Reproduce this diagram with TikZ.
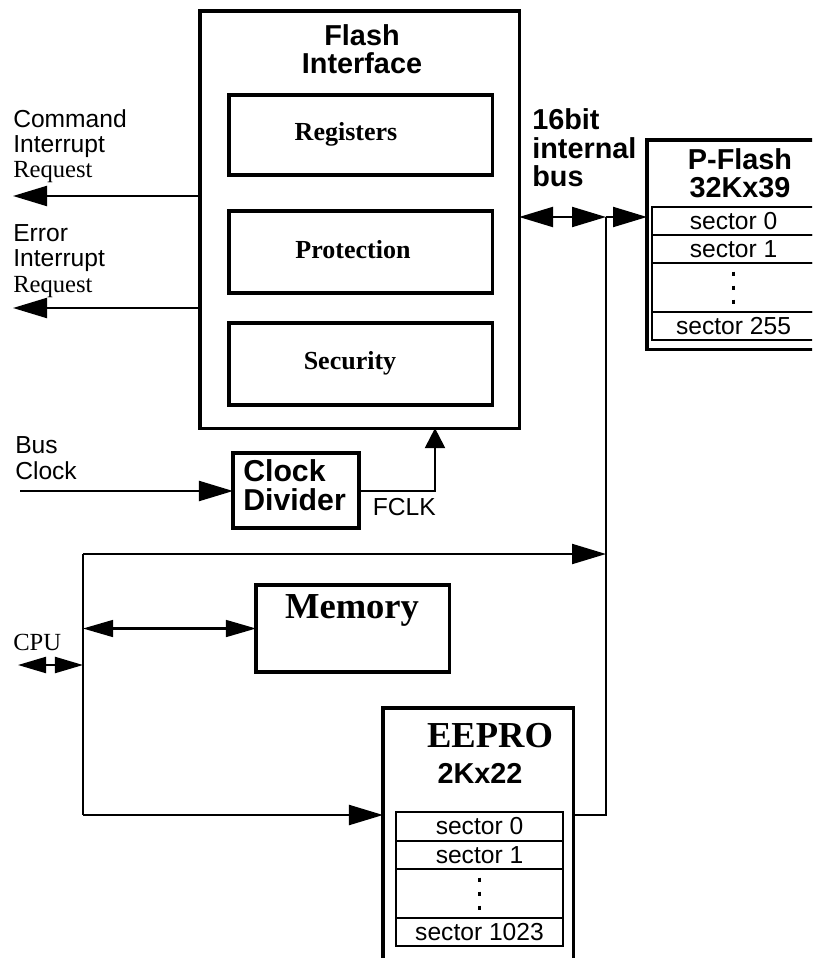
\documentclass[tikz,border=0pt]{standalone}
\usepackage{fontspec}
\setmainfont{Liberation Sans}
\newfontfamily\timesfont{Liberation Serif}
\usetikzlibrary{positioning,arrows.meta}

\tikzset{
	box/.style={draw, line width=2.2pt, anchor=north west, inner sep=0pt, outer sep=0pt},
	cell/.style={draw, line width=1.8pt, anchor=north west, inner sep=0pt, outer sep=0pt, minimum height=0.7cm, font=\fontsize{17.5}{18}\selectfont},
	txt/.style={inner sep=0pt, align=left, font=\fontsize{17.5}{18}\selectfont},
	hdr/.style={inner sep=0pt, align=center, font=\bfseries\fontsize{20.5}{20.6}\selectfont},
	blk/.style={inner sep=0pt, font=\timesfont\bfseries\fontsize{18.5}{20}\selectfont},
	big/.style={inner sep=0pt, font=\timesfont\bfseries\fontsize{26}{28}\selectfont},
	wire/.style={line width=1.5pt},
	vdots/.style={line width=2.5pt, dash pattern=on 0.1cm off 0.25cm}
}

\begin{document}
\begin{tikzpicture}[x=0.025cm, y=-0.025cm, >={Triangle[length=0.85cm,width=0.5cm]}]
	\clip (0,0) rectangle (812,958);

	\node[box, minimum width=7.975cm, minimum height=10.425cm] (flash) at (200,11) {};
	\node[hdr, anchor=base] (flashttl) at (362,74) {Flash\\Interface};
	\node[box, minimum width=6.575cm, minimum height=2cm] (regs) at (229,95) {};
	\node[box, minimum width=6.575cm, minimum height=2.05cm] (prot) at (229,211) {};
	\node[box, minimum width=6.575cm, minimum height=2.05cm] (secu) at (229,323) {};
	\node[blk, anchor=base] (regstxt) at (346,141) {Registers};
	\node[blk, anchor=base] (prottxt) at (353,258) {Protection};
	\node[blk, anchor=base] (secutxt) at (350,369) {Security};

	\node[txt, anchor=base west] (cmdtxt) at (13,178) {Command\\Interrupt\\{\timesfont Request}};
	\node[txt, anchor=base west] (errtxt) at (13,292) {Error\\Interrupt\\{\timesfont Request}};
	\coordinate (cmdirq) at (13,196);
	\coordinate (errirq) at (13,308);
	\draw[wire, ->] (flash.west |- cmdirq) -- (cmdirq);
	\draw[wire, ->] (flash.west |- errirq) -- (errirq);

	\node[txt, anchor=base west] (busclktxt) at (15,479) {Bus\\Clock};
	\node[box, minimum width=3.15cm, minimum height=1.875cm] (clkdiv) at (233,453) {};
	\node[hdr, align=left, anchor=base west, font=\bfseries\fontsize{21.5}{20}\selectfont] (clkdivtxt) at (243,510) {Clock\\Divider};
	\coordinate (busclk) at (20,491);
	\coordinate (fclk) at (435,491);
	\draw[wire, ->] (busclk) -- (clkdiv.west |- busclk);
	\draw[wire, -{Triangle[length=0.5cm,width=0.5cm]}] (clkdiv.east |- fclk) -- (fclk) -- (fclk |- flash.south);
	\node[txt, anchor=base east] (fclktxt) at (436,515) {FCLK};

	\node[box, minimum width=4.6cm, minimum height=5.225cm] (pflash) at (647,140) {};
	\node[hdr, anchor=base] (pflashttl) at (740,198) {P-Flash\\32Kx39};
	\node[cell, minimum width=4.075cm] (pf0) at (652,207) {sector 0};
	\node[cell, minimum width=4.075cm, below=0pt of pf0] (pf1) {sector 1};
	\node[cell, minimum width=4.075cm, minimum height=1.225cm, below=0pt of pf1] (pfdots) {};
	\node[cell, minimum width=4.075cm, below=0pt of pfdots] (pf255) {sector 255};
	\draw[vdots] ([yshift=0.4cm]pfdots.center) -- ([yshift=-0.4cm]pfdots.center);

	\node[box, minimum width=4.825cm, minimum height=2.175cm] (memory) at (256,585) {};
	\node[big, anchor=base] (memtxt) at (352,618) {Memory};

	\node[box, minimum width=4.75cm, minimum height=7cm] (eeprom) at (383,708) {};
	\node[big, anchor=base] (eepromttl) at (490,747) {EEPRO};
	\node[hdr, anchor=base] (eesize) at (480,783) {2Kx22};
	\node[cell, minimum width=4.175cm, minimum height=0.725cm] (ee0) at (396,812) {sector 0};
	\node[cell, minimum width=4.175cm, below=0pt of ee0] (ee1) {sector 1};
	\node[cell, minimum width=4.175cm, minimum height=1.225cm, below=0pt of ee1] (eedots) {};
	\node[cell, minimum width=4.175cm, below=0pt of eedots] (ee1023) {sector 1023};
	\draw[vdots] ([yshift=0.4cm]eedots.center) -- ([yshift=-0.4cm]eedots.center);

	\coordinate (bustop) at (606,217);
	\coordinate (busbot) at (606,815);
	\draw[wire, <->] (flash.east |- bustop) -- (bustop);
	\draw[wire, ->] (bustop) -- (pflash.west |- bustop);
	\draw[wire] (bustop) -- (busbot) -- (eeprom.east |- busbot);
	\node[hdr, align=left, anchor=base west] (bustxt) at (532,187) {16bit\\internal\\bus};

	\coordinate (cpuup) at (83,554);
	\coordinate (cpudown) at (83,815);
	\coordinate (cpuin) at (18,665);
	\draw[wire, ->] (cpuup) -- (cpuup -| bustop);
	\draw[wire] (cpuup) -- (cpudown);
	\draw[wire, ->] (cpudown) -- (eeprom.west |- cpudown);
	\draw[wire, <->, >={Triangle[length=0.75cm,width=0.42cm]}] (memory.west -| cpuup) -- (memory.west);
	\draw[wire, <->, >={Triangle[length=0.7cm,width=0.4cm]}] (cpuin) -- (cpuin -| cpuup);
	\node[txt, anchor=base west, font=\timesfont\fontsize{17.5}{18}\selectfont] (cputxt) at (13,650) {CPU};
\end{tikzpicture}
\end{document}
